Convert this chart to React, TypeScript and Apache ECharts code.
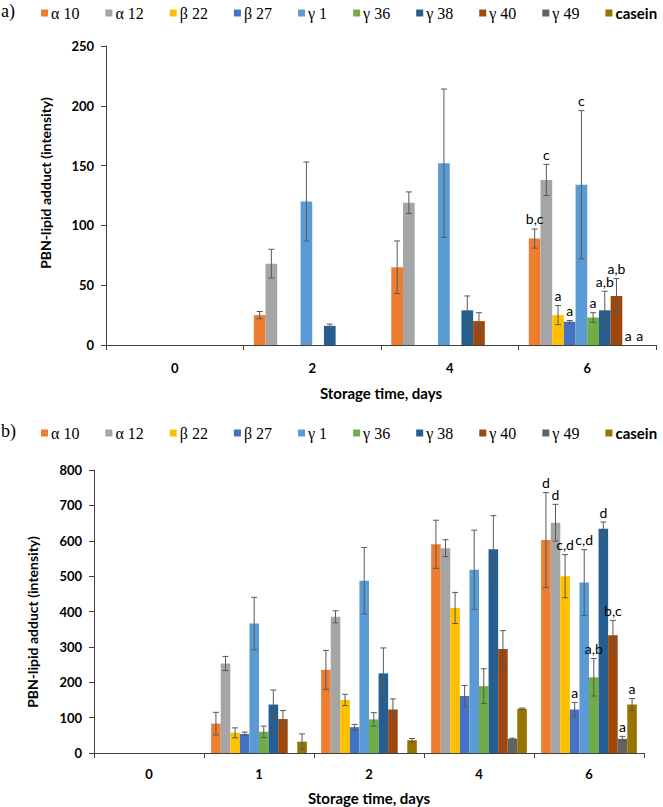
import React, { useEffect, useRef } from "react";
import * as echarts from "echarts";

const seriesNames = ["α 10", "α 12", "β 22", "β 27", "γ 1", "γ 36", "γ 38", "γ 40", "γ 49", "casein"];
const seriesColors = ["#ED7D31", "#A5A5A5", "#FFC000", "#4472C4", "#5B9BD5", "#70AD47", "#255E91", "#9E480E", "#636363", "#997300"];

// ---- Panel a) ----
const daysA = ["0", "2", "4", "6"];
const aAlpha10 = [0, 25, 65, 89];
const aAlpha12 = [0, 68, 119, 138];
const aBeta22 = [0, 0, 0, 25];
const aBeta27 = [0, 0, 0, 19.5];
const aGamma1 = [0, 120, 152, 134];
const aGamma36 = [0, 0, 0, 23];
const aGamma38 = [0, 16, 29, 29];
const aGamma40 = [0, 0, 20, 41];
const aGamma49 = [0, 0, 0, 0];
const aCasein = [0, 0, 0, 0];
const aErrAlpha10 = [0, 3, 22, 8];
const aErrAlpha12 = [0, 12, 9, 13];
const aErrBeta22 = [0, 0, 0, 8];
const aErrBeta27 = [0, 0, 0, 1];
const aErrGamma1 = [0, 33, 62, 62];
const aErrGamma36 = [0, 0, 0, 4];
const aErrGamma38 = [0, 1.5, 12, 16];
const aErrGamma40 = [0, 0, 7, 14.5];
const aErrGamma49 = [0, 0, 0, 0];
const aErrCasein = [0, 0, 0, 0];
// significance letters at day 6 (per series)
const aLetters = ["b,c", "c", "a", "a", "c", "a", "a,b", "a,b", "a", "a"];

// ---- Panel b) ----
const daysB = ["0", "1", "2", "4", "6"];
const bAlpha10 = [0, 83, 235, 590, 602];
const bAlpha12 = [0, 253, 385, 579, 651];
const bBeta22 = [0, 57, 150, 410, 500];
const bBeta27 = [0, 54, 73, 161, 123];
const bGamma1 = [0, 366, 487, 518, 482];
const bGamma36 = [0, 60, 95, 189, 214];
const bGamma38 = [0, 137, 225, 576, 634];
const bGamma40 = [0, 96, 123, 294, 333];
const bGamma49 = [0, 0, 0, 40, 40];
const bCasein = [0, 32, 36, 125, 137];
const bErrAlpha10 = [0, 32, 55, 68, 134];
const bErrAlpha12 = [0, 20, 17, 24, 52];
const bErrBeta22 = [0, 14, 16, 44, 61];
const bErrBeta27 = [0, 5, 8, 30, 20];
const bErrGamma1 = [0, 74, 94, 112, 93];
const bErrGamma36 = [0, 16, 19, 49, 53];
const bErrGamma38 = [0, 41, 72, 95, 19];
const bErrGamma40 = [0, 24, 30, 52, 42];
const bErrGamma49 = [0, 0, 0, 2, 7];
const bErrCasein = [0, 22, 5, 2, 17];
const bLetters = ["d", "d", "c,d", "a", "c,d", "a,b", "d", "b,c", "a", "a"];

const valuesA = [aAlpha10, aAlpha12, aBeta22, aBeta27, aGamma1, aGamma36, aGamma38, aGamma40, aGamma49, aCasein];
const errorsA = [aErrAlpha10, aErrAlpha12, aErrBeta22, aErrBeta27, aErrGamma1, aErrGamma36, aErrGamma38, aErrGamma40, aErrGamma49, aErrCasein];
const valuesB = [bAlpha10, bAlpha12, bBeta22, bBeta27, bGamma1, bGamma36, bGamma38, bGamma40, bGamma49, bCasein];
const errorsB = [bErrAlpha10, bErrAlpha12, bErrBeta22, bErrBeta27, bErrGamma1, bErrGamma36, bErrGamma38, bErrGamma40, bErrGamma49, bErrCasein];

const GAP_A = 0.15;
const GAP_B = 0.13;
const N = seriesNames.length;
const AXIS_COLOR = "#404040";
const ERR_COLOR = "#595959";
const SANS = "Lato";

function barSeries(values: number[][], axisIndex: number, gap: number) {
  return values.map((vals, s) => ({
    type: "bar",
    name: seriesNames[s],
    xAxisIndex: axisIndex,
    yAxisIndex: axisIndex,
    data: vals,
    barGap: "0%",
    barCategoryGap: `${gap * 100}%`,
    itemStyle: { color: seriesColors[s] },
    z: 2,
  }));
}

function errSeries(values: number[][], errors: number[][], letters: string[], axisIndex: number, gap: number) {
  const lastCat = values[0].length - 1;
  return values.map((vals, s) => ({
    type: "custom",
    xAxisIndex: axisIndex,
    yAxisIndex: axisIndex,
    silent: true,
    z: 5,
    encode: { x: 0, y: 1 },
    data: vals.map((v, i) => [i, v, errors[s][i]]),
    renderItem: (params: any, api: any) => {
      const ci = api.value(0) as number;
      const v = api.value(1) as number;
      const e = api.value(2) as number;
      const band = api.size([1, 0])[0];
      const total = band * (1 - gap);
      const bw = total / N;
      const cx = api.coord([ci, 0])[0] - total / 2 + bw * (s + 0.5);
      const children: any[] = [];
      const yTop = api.coord([ci, v + e])[1];
      if (e > 0) {
        const yBot = api.coord([ci, Math.max(0, v - e)])[1];
        const cap = 3;
        const st = { stroke: ERR_COLOR, lineWidth: 1 };
        children.push({ type: "line", shape: { x1: cx, y1: yTop, x2: cx, y2: yBot }, style: st });
        children.push({ type: "line", shape: { x1: cx - cap, y1: yTop, x2: cx + cap, y2: yTop }, style: st });
        children.push({ type: "line", shape: { x1: cx - cap, y1: yBot, x2: cx + cap, y2: yBot }, style: st });
      }
      if (ci === lastCat && letters[s]) {
        children.push({
          type: "text",
          style: {
            text: letters[s],
            x: cx,
            y: yTop - 10,
            align: "center",
            verticalAlign: "middle",
            fontFamily: SANS,
            fontSize: 14,
            fill: "#000",
          },
        });
      }
      return { type: "group", children };
    },
  }));
}

function legendFor(top: number) {
  return {
    top,
    left: 41,
    width: 760,
    padding: 0,
    itemWidth: 7,
    itemHeight: 7,
    itemGap: 26,
    icon: "rect",
    selectedMode: false,
    textStyle: { fontFamily: "Liberation Serif", fontSize: 16, color: "#000", padding: [0, 0, 0, -2] },
    data: seriesNames.map((n) =>
      n === "casein"
        ? { name: n, textStyle: { fontFamily: SANS, fontWeight: "bold", fontSize: 15, color: "#000" } }
        : { name: n }
    ),
  };
}

function xAxisFor(gridIndex: number, cats: string[], margin: number, nameGap: number) {
  return {
    type: "category",
    gridIndex,
    data: cats,
    name: "Storage time, days",
    nameLocation: "middle",
    nameGap,
    nameTextStyle: { fontFamily: SANS, fontWeight: "bold", fontSize: 15, color: "#000" },
    axisLine: { show: true, lineStyle: { color: AXIS_COLOR, width: 1 } },
    axisTick: { show: true, length: 5, lineStyle: { color: AXIS_COLOR } },
    axisLabel: { margin, fontFamily: SANS, fontWeight: "bold", fontSize: 13, color: "#000" },
  };
}

function yAxisFor(gridIndex: number, max: number, interval: number) {
  return {
    type: "value",
    gridIndex,
    min: 0,
    max,
    interval,
    axisLine: { show: true, lineStyle: { color: AXIS_COLOR, width: 1 } },
    axisTick: { show: true, length: 5, lineStyle: { color: AXIS_COLOR } },
    splitLine: { show: false },
    axisLabel: { margin: 12, fontFamily: SANS, fontWeight: "bold", fontSize: 13, color: "#000" },
  };
}

export default function App() {
  const ref = useRef<HTMLDivElement>(null);
  useEffect(() => {
    if (!ref.current) return;
    const chart = echarts.init(ref.current, null, { renderer: "svg" });
    chart.setOption({
      animation: false,
      backgroundColor: "#fff",
      legend: [legendFor(5), legendFor(425)],
      grid: [
        { left: 106, right: 7, top: 46, height: 299, containLabel: false },
        { left: 94, right: 19, top: 470, height: 283, containLabel: false },
      ],
      xAxis: [xAxisFor(0, daysA, 16, 40), xAxisFor(1, daysB, 14, 37)],
      yAxis: [yAxisFor(0, 250, 50), yAxisFor(1, 800, 100)],
      graphic: [
        { type: "text", left: 1, top: 2, style: { text: "a)", fontFamily: "Liberation Serif", fontSize: 18, fill: "#000" } },
        { type: "text", left: 1, top: 422, style: { text: "b)", fontFamily: "Liberation Serif", fontSize: 18, fill: "#000" } },
        {
          type: "text",
          x: 45,
          y: 183,
          rotation: Math.PI / 2,
          style: { text: "PBN-lipid adduct (intensity)", align: "center", verticalAlign: "middle", fontFamily: SANS, fontWeight: "bold", fontSize: 14, fill: "#000" },
        },
        {
          type: "text",
          x: 32,
          y: 622,
          rotation: Math.PI / 2,
          style: { text: "PBN-lipid adduct (intensity)", align: "center", verticalAlign: "middle", fontFamily: SANS, fontWeight: "bold", fontSize: 14, fill: "#000" },
        },
      ],
      series: [
        ...barSeries(valuesA, 0, GAP_A),
        ...barSeries(valuesB, 1, GAP_B),
        ...errSeries(valuesA, errorsA, aLetters, 0, GAP_A),
        ...errSeries(valuesB, errorsB, bLetters, 1, GAP_B),
      ],
    });
    return () => chart.dispose();
  }, []);
  return <div ref={ref} style={{ position: "absolute", left: 0, top: 0, width: 663, height: 807 }} />;
}
